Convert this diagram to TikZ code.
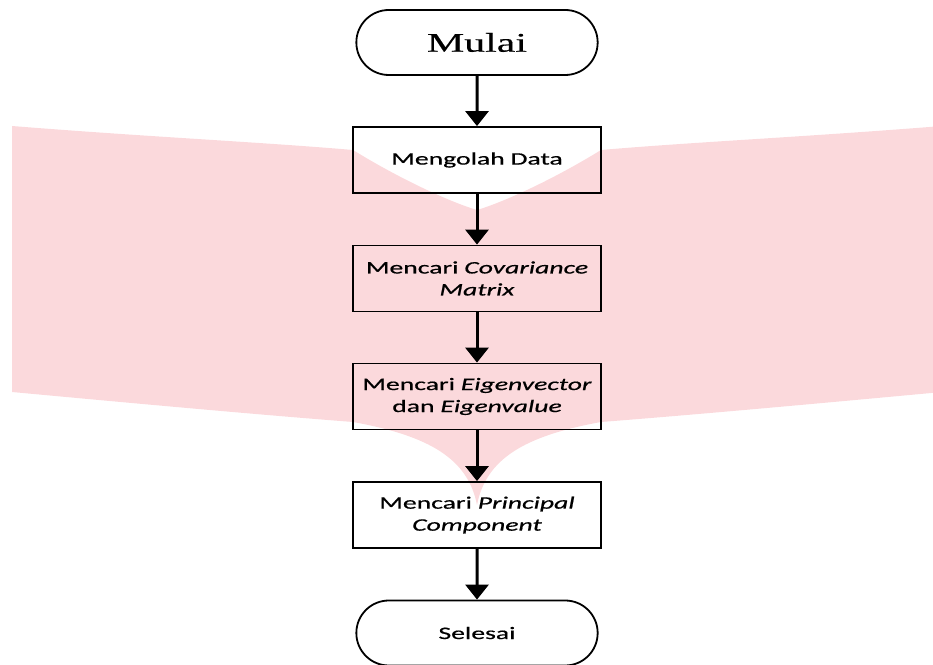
\documentclass[tikz,border=0pt]{standalone}
\usepackage{fontspec}
\setmainfont{Carlito}[FakeStretch=1.58, FakeBold=0.6]
\newfontfamily\widserif{Liberation Serif}[FakeStretch=1.55, FakeBold=0.4]
\usepackage{tikz}
\usetikzlibrary{shapes.misc, arrows.meta}
\definecolor{markpink}{RGB}{251, 217, 220}

\begin{document}
\begin{tikzpicture}[x=1pt, y=1pt,
  process/.style={draw, line width=1.8pt, rectangle, minimum height=66pt, text width=240pt,
    inner sep=4pt, align=center, font=\fontsize{17.5}{22}\selectfont},
  terminal/.style={draw, line width=1.8pt, rounded rectangle, minimum width=248pt, minimum height=65pt},
  flow/.style={line width=3pt, -{Triangle[width=23pt, length=15pt]}}]
  \clip (0,0) rectangle (933,664);

  % Watermark
  \fill[markpink] (12,538) .. controls (150,527) and (260,522) .. (353,514)
    .. controls (400,485) and (450,462) .. (477,454)
    .. controls (504,462) and (554,485) .. (601,514)
    .. controls (694,522) and (804,527) .. (942,538)
    -- (942,272) .. controls (834,262) and (704,250) .. (601,242)
    .. controls (524,228) and (486,205) .. (477,159)
    .. controls (468,205) and (430,228) .. (353,242)
    .. controls (250,250) and (120,262) .. (12,272) -- cycle;

  % Steps
  \node[terminal, font=\widserif\fontsize{27}{32}\selectfont] (mulai) at (477,621.5) {Mulai};
  \node[process] (olah) at (477,504) {Mengolah Data};
  \node[process] (kovarian) at (477,385.5) {Mencari \textit{Covariance}\\ \textit{Matrix}};
  \node[process] (eigen) at (477,267.5) {Mencari \textit{Eigenvector}\\ dan \textit{Eigenvalue}};
  \node[process] (komponen) at (477,149) {Mencari \textit{Principal}\\ \textit{Component}};
  \node[terminal, font=\fontsize{17.5}{22}\selectfont] (selesai) at (477,31) {Selesai};

  % Arrows
  \foreach \a/\b in {mulai/olah, olah/kovarian, kovarian/eigen, eigen/komponen, komponen/selesai}
    \draw[flow] (\a) -- (\b);
\end{tikzpicture}
\end{document}
